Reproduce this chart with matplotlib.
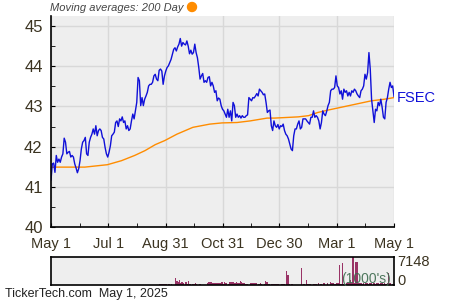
import numpy as np
import matplotlib
matplotlib.use("Agg")
import matplotlib.pyplot as plt
import matplotlib.dates as mdates
from matplotlib.ticker import MultipleLocator, FixedLocator
import datetime as dt

plt.rcParams['font.family'] = ['Liberation Sans', 'DejaVu Sans']

start_date = "2024-05-01"
end_date = "2025-05-01"
tick_dates = ["2024-05-01", "2024-07-01", "2024-08-31", "2024-10-31",
              "2024-12-30", "2025-03-01", "2025-05-01"]
tick_labels = ["May 1", "Jul 1", "Aug 31", "Oct 31", "Dec 30", "Mar 1", "May 1"]

price = [
    41.17, 41.57, 41.59, 41.36, 41.78, 41.61, 41.69, 41.61, 41.74, 41.82,
    42.21, 42.11, 41.82, 41.86, 41.88, 41.74, 41.78, 41.74, 41.57, 41.47,
    41.35, 41.45, 41.65, 41.94, 42.11, 42.15, 42.23, 41.82, 41.78, 42.11,
    42.23, 42.31, 42.44, 42.31, 42.52, 42.27, 42.40, 42.44, 42.40, 42.23,
    42.19, 41.98, 41.82, 41.74, 41.86, 42.02, 42.27, 42.31, 42.36, 42.60,
    42.64, 42.50, 42.69, 42.64, 42.74, 42.60, 42.64, 42.44, 42.52, 42.40,
    42.44, 42.64, 42.81, 42.69, 42.89, 43.10, 43.72, 43.64, 43.02, 43.22,
    43.02, 43.18, 43.26, 43.35, 43.51, 43.55, 43.55, 43.60, 43.76, 43.80,
    43.68, 43.64, 43.90, 43.93, 43.88, 43.55, 43.76,
    43.88, 43.97, 44.01, 44.09, 44.17, 44.30, 44.42, 44.46, 44.38, 44.48,
    44.55, 44.69, 44.50, 44.59, 44.55, 44.53, 44.63, 44.50, 44.31, 44.40,
    44.30, 44.34, 44.55, 44.34, 44.21, 43.97, 43.68, 43.76, 43.82, 43.60,
    43.64, 43.60, 43.72, 43.74, 43.51, 43.60, 43.51, 43.35, 43.39, 43.14,
    43.21, 43.18, 43.02, 42.93, 42.89, 42.81, 42.73, 42.93, 42.73, 42.89,
    42.64, 43.10, 43.02, 42.73, 42.81, 42.73, 42.77, 42.71, 42.77, 42.73,
    42.73, 42.77, 42.79, 43.22, 43.18, 43.14, 43.22, 43.21, 43.26, 43.32,
    43.26, 43.43, 43.39, 43.35, 43.29, 43.31, 43.10, 42.85, 42.89, 42.91,
    42.52, 42.40, 42.64, 42.52,
    42.48, 42.55, 42.44, 42.52, 42.50, 42.56, 42.40, 42.31, 42.27, 42.19,
    42.07, 41.94, 41.90, 42.27, 42.44, 42.44, 42.56, 42.64, 42.44, 42.48,
    42.69, 42.69, 42.69, 42.64, 42.60, 42.56, 42.73, 42.73, 42.89, 42.73,
    42.77, 42.73, 42.64, 42.44, 42.60, 42.89, 42.81, 42.77, 42.88, 43.02,
    43.10, 43.39, 43.43, 43.43, 43.47, 43.76, 43.51, 43.47, 43.31, 43.39,
    43.18, 43.43, 43.35, 43.39, 43.26, 43.35, 43.26, 43.39, 43.35, 43.43,
    43.39, 43.31, 43.26, 43.22, 43.39, 43.43, 43.51, 43.80, 43.68, 43.84,
    44.34, 43.93, 43.18, 42.89, 42.60, 42.93, 42.89, 43.10, 43.02, 43.18,
    42.98, 42.73, 42.69, 43.10, 43.22, 43.43, 43.60, 43.47, 43.51, 43.25,
]

ma_days = [0, 36, 60, 75, 89, 100, 111, 121, 134, 151, 169, 182, 198, 212,
           230, 238, 263, 274, 284, 295, 309, 327, 341, 355, 365]
ma_values = [41.49, 41.49, 41.55, 41.65, 41.78, 41.90, 42.05, 42.15, 42.31,
             42.48, 42.56, 42.59, 42.60, 42.64, 42.71, 42.71, 42.74, 42.77,
             42.85, 42.91, 42.98, 43.07, 43.14, 43.18, 43.22]

volume = [
    0, 0, 0, 0, 0, 0, 0, 0, 0, 0,
    0, 0, 0, 0, 0, 0, 0, 0, 0, 0,
    0, 0, 0, 0, 0, 0, 0, 0, 0, 0,
    0, 0, 0, 0, 0, 0, 0, 0, 0, 0,
    0, 0, 0, 0, 0, 0, 0, 0, 0, 0,
    0, 0, 0, 0, 0, 0, 0, 0, 0, 0,
    0, 0, 0, 0, 0, 0, 0, 0, 0, 0,
    0, 0, 0, 0, 0, 0, 0, 0, 0, 0,
    0, 0, 250, 250, 200, 250, 250, 250, 0, 150,
    0, 250, 0, 0, 1830, 1000, 830, 1250, 600, 830,
    400, 0, 660, 300, 1000, 250, 0, 330, 150, 580,
    250, 0, 250, 250, 0, 0, 0, 0, 400, 830,
    830, 830, 400, 400, 400, 400, 400, 400, 400, 660,
    200, 660, 400, 0, 250, 660, 660, 660, 660, 500,
    830, 500, 400, 1000, 660, 400, 500, 300, 330, 0,
    0, 400, 400, 400, 400, 400, 0, 250, 580, 250,
    0, 250, 1000, 830, 250, 330, 0, 250, 250, 250,
    250, 200, 250, 0, 250, 250, 250, 0, 3500, 2600,
    250, 0, 250, 0, 0, 0, 0, 0, 0, 4200,
    0, 250, 0, 1250, 250, 250, 250, 0, 330, 330,
    330, 0, 400, 0, 250, 0, 500, 0, 0, 400,
    0, 660, 500, 400, 250, 250, 400, 500, 5000, 300,
    5500, 250, 0, 400, 400, 400, 1250, 500, 7148, 500,
    5700, 5650, 400, 400, 400, 300, 400, 0, 400, 400,
    300, 400, 400, 0, 400, 300, 400, 400, 250, 400,
    400, 300, 400, 250, 400, 3000, 400, 0, 300, 300,
]
vol_max = 7148
ticker = "FSEC"

d0 = mdates.date2num(dt.date.fromisoformat(start_date))
d1 = mdates.date2num(dt.date.fromisoformat(end_date))
px = np.linspace(d0, d1, len(price))
vx = np.linspace(d0, d1, len(volume))
mx = d0 + np.array(ma_days)
ticks = [mdates.date2num(dt.date.fromisoformat(t)) for t in tick_dates]
minor = [(a + b) / 2 for a, b in zip(ticks[:-1], ticks[1:])]

txt = '#3b3320'
bg = '#eeeeee'
grid = '#d8d8d8'

fig = plt.figure(figsize=(4.5, 3.0), dpi=100)
ax = fig.add_axes([51/450, 1-227/300, 343/450, 211/300])
ax.set_facecolor(bg)
ax.set_xlim(d0, d1)
ax.set_ylim(40, 45.25)
ax.xaxis.set_major_locator(FixedLocator(ticks))
ax.xaxis.set_minor_locator(FixedLocator(minor))
ax.set_xticklabels(tick_labels)
ax.yaxis.set_major_locator(MultipleLocator(1))
ax.yaxis.set_minor_locator(MultipleLocator(0.5))
ax.grid(True, which='major', color=grid, lw=1)
ax.set_axisbelow(True)
for s in ['top', 'right']:
    ax.spines[s].set_visible(False)
for s in ['left', 'bottom']:
    ax.spines[s].set_color('black')
    ax.spines[s].set_linewidth(1.2)
ax.tick_params(which='both', direction='in', length=3, color='black',
               labelcolor=txt)
ax.tick_params(axis='y', labelsize=12, pad=6)
ax.tick_params(axis='x', labelsize=10.5, pad=7)

ax.plot(mx, ma_values, color='#ff8c00', lw=1.0)
ax.plot(px, price, color='#1010d8', lw=1.0)
ax.text(1.007, 43.22, ticker, transform=ax.get_yaxis_transform(),
        color='#1010d8', fontsize=10.5, va='center', ha='left')

fig.text(50/450, 1-8/300, "Moving averages: 200 Day", style='italic',
         fontsize=8.0, color='#444444', ha='left', va='center')
fig.patches.append(matplotlib.patches.Ellipse((192/450, 1-7/300), 9/450, 9/300,
                   transform=fig.transFigure, color='#ff8c00'))

vax = fig.add_axes([51/450, 1-285/300, 343/450, 28.5/300])
vax.set_facecolor(bg)
vax.bar(vx, volume, width=1.5, color='#993366', align='center')
vax.set_xlim(d0, d1)
vax.set_ylim(0, vol_max)
vax.set_xticks([])
vax.set_yticks([])
for s in vax.spines.values():
    s.set_color('black')
    s.set_linewidth(1.2)
vax.text(1.01, 0.8, str(vol_max), transform=vax.transAxes, fontsize=10.5,
         color=txt, ha='left', va='center')
vax.text(1.01, 0.14, "0", transform=vax.transAxes, fontsize=10.5,
         color=txt, ha='left', va='center')
vax.text(0.99, 0.2, "(1000's)", transform=vax.transAxes, fontsize=10,
         color='#3d6b4e', ha='right', va='center', alpha=0.9)

fig.text(5/450, 1-294/300, "TickerTech.com  May 1, 2025", fontsize=9,
         color='#222222', ha='left', va='center')

fig.savefig("out.png", dpi=100)
